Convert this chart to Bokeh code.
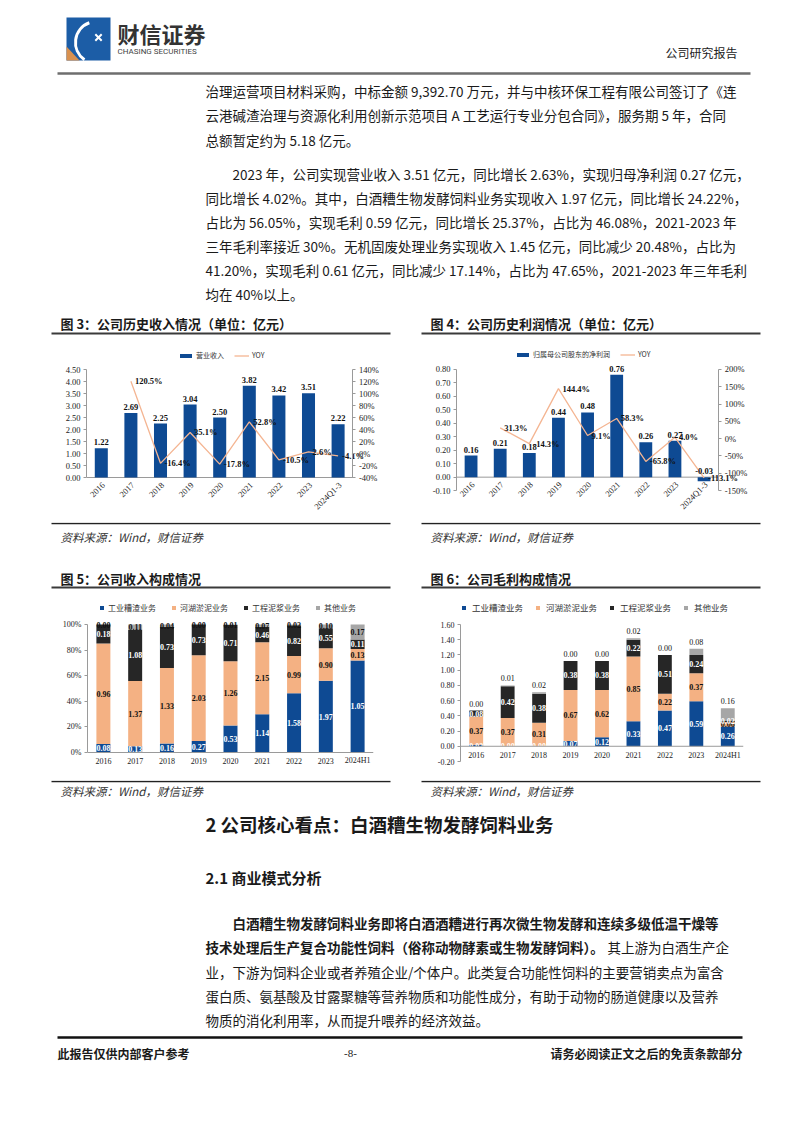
import math
from bokeh.plotting import figure
from bokeh.models import (Range1d, FactorRange, LinearAxis, Legend, LegendItem, FixedTicker,
                          PrintfTickFormatter, Spacer, Span)
from bokeh.layouts import column, row
from bokeh.core.properties import value
from bokeh.embed import file_html
from bokeh.resources import INLINE

CJK = "Noto Sans CJK SC"
SERIF = "Liberation Serif"
BLUE = "#0E4A93"
ORANGE = "#F4B183"
LINE_OR = "#F4B592"
DARK = "#262626"
GREY = "#A6A6A6"
TXT = "#1A1A1A"
AXIS = "#9A9A9A"

# ---------------- data ----------------
years_a = ["2016", "2017", "2018", "2019", "2020", "2021", "2022", "2023", "2024Q1-3"]
revenue = [1.22, 2.69, 2.25, 3.04, 2.50, 3.82, 3.42, 3.51, 2.22]
revenue_yoy = [None, 120.5, -16.4, 35.1, -17.8, 52.8, -10.5, 2.6, -4.1]
net_profit = [0.16, 0.21, 0.18, 0.44, 0.48, 0.76, 0.26, 0.27, -0.03]
net_profit_yoy = [None, 31.3, -14.3, 144.4, 9.1, 58.3, -65.8, 4.0, -113.1]

years_b = ["2016", "2017", "2018", "2019", "2020", "2021", "2022", "2023", "2024H1"]
seg_names = ["工业糟渣业务", "河湖淤泥业务", "工程泥浆业务", "其他业务"]
rev_industrial = [0.08, 0.13, 0.16, 0.27, 0.53, 1.14, 1.58, 1.97, 1.05]
rev_lake = [0.96, 1.37, 1.33, 2.03, 1.26, 2.15, 0.99, 0.90, 0.13]
rev_mud = [0.18, 1.08, 0.73, 0.73, 0.71, 0.46, 0.82, 0.55, 0.11]
rev_other = [0.00, 0.11, 0.04, 0.00, 0.01, 0.07, 0.02, 0.10, 0.17]
gp_industrial = [0.02, 0.00, 0.00, 0.07, 0.12, 0.33, 0.47, 0.59, 0.26]
gp_lake = [0.37, 0.37, 0.31, 0.67, 0.62, 0.85, 0.22, 0.37, 0.06]
gp_mud = [0.08, 0.42, 0.38, 0.38, 0.38, 0.22, 0.51, 0.24, 0.02]
gp_other = [0.00, 0.01, 0.02, 0.00, 0.00, 0.02, 0.00, 0.08, 0.16]

para1 = [
    "治理运营项目材料采购，中标金额 9,392.70 万元，并与中核环保工程有限公司签订了《连",
    "云港碱渣治理与资源化利用创新示范项目 A 工艺运行专业分包合同》，服务期 5 年，合同",
    "总额暂定约为 5.18 亿元。",
]
para2 = [
    "2023 年，公司实现营业收入 3.51 亿元，同比增长 2.63%，实现归母净利润 0.27 亿元，",
    "同比增长 4.02%。其中，白酒糟生物发酵饲料业务实现收入 1.97 亿元，同比增长 24.22%，",
    "占比为 56.05%，实现毛利 0.59 亿元，同比增长 25.37%，占比为 46.08%，2021-2023 年",
    "三年毛利率接近 30%。无机固废处理业务实现收入 1.45 亿元，同比减少 20.48%，占比为",
    "41.20%，实现毛利 0.61 亿元，同比减少 17.14%，占比为 47.65%，2021-2023 年三年毛利",
    "均在 40%以上。",
]
para3_bold = [
    "白酒糟生物发酵饲料业务即将白酒酒糟进行再次微生物发酵和连续多级低温干燥等",
    "技术处理后生产复合功能性饲料（俗称动物酵素或生物发酵饲料）。",
]
para3_rest = [
    "其上游为白酒生产企",
    "业，下游为饲料企业或者养殖企业/个体户。此类复合功能性饲料的主要营销卖点为富含",
    "蛋白质、氨基酸及甘露聚糖等营养物质和功能性成分，有助于动物的肠道健康以及营养",
    "物质的消化利用率，从而提升喂养的经济效益。",
]

W = 794


def band(h):
    p = figure(width=W, height=h, x_range=Range1d(0, W), y_range=Range1d(h, 0),
               x_axis_type=None, y_axis_type=None, output_backend="svg",
               toolbar_location=None, min_border=0)
    p.outline_line_color = None
    return p


def txt(p, x, y, s, size, style="normal", align="left", color=TXT, font=CJK):
    p.text(x=[x], y=[y], text=[s], text_font=value(font), text_font_size=size,
           text_font_style=style, text_align=align, text_baseline="middle",
           text_color=color)


def hline(p, x0, x1, y, w=1.5, color="#333333"):
    p.segment(x0=[x0], y0=[y], x1=[x1], y1=[y], line_color=color, line_width=w)


# ---------------- band A (page y 0..340) ----------------
A = band(340)
A.quad(left=[66], right=[110], top=[17], bottom=[60], fill_color="#1C5DA6", line_color=None)
A.patch(x=[66, 66, 79], y=[46, 60, 60], fill_color="#D9914F", line_color=None)
A.arc(x=[96], y=[42], radius=21, start_angle=math.radians(110), end_angle=math.radians(235),
      line_color="white", line_width=3)
A.scatter(x=[98], y=[37], marker="x", size=9, line_color="white", line_width=2)
txt(A, 117, 32, "财信证券", "22px", "bold", color="#333333")
txt(A, 117, 51, "CHASING SECURITIES", "8px", color="#444444", font="Roboto")
txt(A, 737, 52, "公司研究报告", "12px", align="right", color="#222222")
hline(A, 57, 750, 73, 2.5, "#6E6E6E")
for s, y in zip(para1, [90, 114, 139]):
    txt(A, 205, y, s, "13.5px")
for i, (s, y) in enumerate(zip(para2, [173, 197, 221, 245, 269, 293])):
    txt(A, 232 if i == 0 else 205, y, s, "13.5px")
txt(A, 60, 323, "图 3：公司历史收入情况（单位：亿元）", "13px", "bold")
txt(A, 430, 323, "图 4：公司历史利润情况（单位：亿元）", "13px", "bold")
hline(A, 51, 390, 333, 2, "#3A3A3A")
hline(A, 421, 760, 333, 2, "#3A3A3A")


# ---------------- chart helpers ----------------
def style_axis(ax, size):
    ax.axis_line_color = AXIS
    ax.major_tick_line_color = AXIS
    ax.major_tick_out = 3
    ax.major_tick_in = 0
    ax.minor_tick_line_color = None
    ax.major_label_text_font = SERIF
    ax.major_label_text_font_size = size
    ax.major_label_text_color = "#222222"
    ax.major_label_standoff = 3


def legend_in(p, items, loc, gw, gh, fs, spacing, standoff):
    leg = Legend(items=items, orientation="horizontal", location=loc,
                 label_text_font=CJK, label_text_font_size=fs, label_text_color="#333333",
                 glyph_width=gw, glyph_height=gh, spacing=spacing, padding=0,
                 margin=0, border_line_color=None, background_fill_alpha=0,
                 label_standoff=standoff, label_height=8)
    p.add_layout(leg)


def bar_line_chart(bars, yoy, y0, y1, ry0, ry1, rstep, lstep,
                   frame_w, frame_h, px_top, px_bot, x_end, br, bb, bar_label, loc):
    # data span plus pixel margins above / below (frame also holds legend & x labels)
    data_px = frame_h - px_top - px_bot
    k = (y1 - y0) / data_px
    rk = (ry1 - ry0) / data_px
    n_x = len(years_a)
    p = figure(x_range=Range1d(-0.5, x_end),
               y_range=Range1d(y0 - px_bot * k, y1 + px_top * k),
               width=35 + frame_w + br, height=5 + frame_h + bb, x_axis_location=None,
               min_border_left=35, min_border_right=br, min_border_top=5,
               min_border_bottom=bb, output_backend="svg", toolbar_location=None)
    p.xgrid.visible = False
    p.ygrid.visible = False
    p.outline_line_color = None
    p.extra_y_ranges = {"yoy": Range1d(ry0 - px_bot * rk, ry1 + px_top * rk)}
    n = int(round((y1 - y0) / lstep))
    p.yaxis.ticker = FixedTicker(ticks=[round(y0 + i * lstep, 2) for i in range(n + 1)])
    p.yaxis.formatter = PrintfTickFormatter(format="%.2f")
    p.yaxis.bounds = (y0, y1)
    rax = LinearAxis(y_range_name="yoy",
                     ticker=FixedTicker(ticks=list(range(ry0, ry1 + 1, rstep))),
                     formatter=PrintfTickFormatter(format="%d%%"),
                     fixed_location=n_x - 0.5, bounds=(ry0, ry1))
    p.add_layout(rax, "right")
    for ax in [p.yaxis[0], rax]:
        style_axis(ax, "8.5px")
    idx = list(range(n_x))
    # category axis line at zero, with its labels
    p.segment(x0=[-0.5], y0=[0], x1=[n_x - 0.5], y1=[0], line_color=AXIS, line_width=1)
    p.text(x=idx, y=[0] * n_x, text=years_a, angle=math.pi / 4,
           text_font=value(SERIF), text_font_size="8.5px", text_align="right",
           text_baseline="middle", x_offset=2, y_offset=6, text_color="#222222")
    br_ = p.vbar(x=idx, top=bars, width=0.44, fill_color=BLUE, line_color=None)
    xs = [i for i, v in zip(idx, yoy) if v is not None]
    ys = [v for v in yoy if v is not None]
    lr = p.line(x=xs, y=ys, y_range_name="yoy", line_color=LINE_OR, line_width=1.3)
    p.text(x=idx, y=[max(v, 0) for v in bars], text=["%.2f" % v for v in bars],
           text_font=value(SERIF), text_font_size="8.5px", text_font_style="bold",
           text_align="center", text_baseline="bottom", y_offset=-3, text_color="#111111")
    p.text(x=xs, y=ys, y_range_name="yoy", text=["%.1f%%" % v for v in ys],
           text_font=value(SERIF), text_font_size="8.5px", text_font_style="bold",
           text_align="left", text_baseline="middle", x_offset=4, text_color="#111111")
    legend_in(p, [LegendItem(label=bar_label, renderers=[br_]),
                  LegendItem(label="YOY", renderers=[lr])], loc, 15, 5, "7px", 10, 3)
    return p


# chart 3: frame page x 86..382, y 345..515 (zero at 477)
p3 = bar_line_chart(revenue, revenue_yoy, 0, 4.5, -40, 140, 20, 0.5,
                    296, 170, 24, 38, 9.5, 30, 7, "营业收入", (92, 155))
# chart 4: frame page x 456..756, y 345..516 (-0.1 at 491)
p4 = bar_line_chart(net_profit, net_profit_yoy, -0.1, 0.8, -150, 200, 50, 0.1,
                    300, 171, 24, 25, 9.8, 33, 6, "归属母公司股东的净利润", (59, 156))


def stack_chart(vals, y0, y1, ystep, fmt, bl, frame_h, px_top, px_bot, bb, pct,
                loc, fs, spacing, standoff, lab_off):
    data_px = frame_h - px_top - px_bot
    k = (y1 - y0) / data_px
    p = figure(x_range=FactorRange(factors=list(years_b)),
               y_range=Range1d(y0 - px_bot * k, y1 + px_top * k),
               width=339, height=5 + frame_h + bb, min_border_left=bl, min_border_right=17,
               min_border_top=5, min_border_bottom=bb, output_backend="svg",
               toolbar_location=None, x_axis_location=None)
    p.xgrid.visible = False
    p.ygrid.visible = False
    p.outline_line_color = None
    totals = [sum(t) for t in zip(*vals)]
    if pct:
        data = [[v / t * 100 for v, t in zip(s, totals)] for s in vals]
    else:
        data = vals
    src = {"x": years_b}
    keys = ["s0", "s1", "s2", "s3"]
    for kk, d in zip(keys, data):
        src[kk] = d
    rs = p.vbar_stack(keys, x="x", width=0.44, color=[BLUE, ORANGE, DARK, GREY],
                      line_color=None, source=src)
    n = int(round((y1 - y0) / ystep))
    p.yaxis.ticker = FixedTicker(ticks=[round(y0 + i * ystep, 2) for i in range(n + 1)])
    p.yaxis.formatter = PrintfTickFormatter(format=fmt)
    p.yaxis.bounds = (y0, y1)
    style_axis(p.yaxis[0], "8px")
    # category axis line at zero, with its labels
    p.add_layout(Span(location=0, dimension="width", line_color=AXIS, line_width=1))
    p.text(x=years_b, y=[0] * len(years_b), text=years_b, text_font=value(SERIF),
           text_font_size="8px", text_align="center", text_baseline="middle",
           y_offset=lab_off, text_color="#222222")
    colors = ["white", "#111111", "white", "#111111"]
    cum = [0.0] * len(years_b)
    for si, (d, v) in enumerate(zip(data, vals)):
        centers = [c + dv / 2 for c, dv in zip(cum, d)]
        tops = [c + dv for c, dv in zip(cum, d)]
        if si == 3 and not pct:
            p.text(x=years_b, y=tops, text=["%.2f" % x for x in v], text_font=value(SERIF),
                   text_font_size="8px", text_align="center", text_baseline="bottom",
                   y_offset=-4, text_color=["#111111"] * len(v))
        else:
            p.text(x=years_b, y=centers, text=["%.2f" % x for x in v], text_font=value(SERIF),
                   text_font_size="8px", text_font_style="bold", text_align="center",
                   text_baseline="middle", text_color=[colors[si]] * len(v))
        cum = tops
    legend_in(p, [LegendItem(label=nm, renderers=[r]) for nm, r in zip(seg_names, rs)],
              loc, 5, 5, fs, spacing, standoff)
    return p


# chart 5: frame page x 87..373, y 597..768 (0% at 752)
p5 = stack_chart([rev_industrial, rev_lake, rev_mud, rev_other], 0, 100, 20, "%d%%", 36,
                 171, 27, 16, 12, True, (12, 155), "8px", 15, 4, 8)
# chart 6: frame page x 460..743, y 597..768 (-0.2 at 761)
p6 = stack_chart([gp_industrial, gp_lake, gp_mud, gp_other], -0.2, 1.6, 0.2, "%.2f", 39,
                 171, 27, 7, 12, False, (1, 155), "8.5px", 12, 6, 9)

# ---------------- band C (page y 522..592) ----------------
C = band(70)
hline(C, 51, 390, 1, 1.5, "#222222")
hline(C, 421, 760, 1, 1.5, "#222222")
txt(C, 60, 14, "资料来源：Wind，财信证券", "11.5px", "italic", color="#333333")
txt(C, 430, 14, "资料来源：Wind，财信证券", "11.5px", "italic", color="#333333")
txt(C, 60, 56, "图 5：公司收入构成情况", "13px", "bold")
txt(C, 430, 56, "图 6：公司毛利构成情况", "13px", "bold")
hline(C, 51, 390, 65, 2, "#3A3A3A")
hline(C, 421, 760, 65, 2, "#3A3A3A")

# ---------------- band E (page y 780..1125) ----------------
E = band(345)
hline(E, 51, 390, 1, 1.5, "#222222")
hline(E, 421, 760, 1, 1.5, "#222222")
txt(E, 60, 10, "资料来源：Wind，财信证券", "11.5px", "italic", color="#333333")
txt(E, 430, 10, "资料来源：Wind，财信证券", "11.5px", "italic", color="#333333")
txt(E, 205, 43, "2 公司核心看点：白酒糟生物发酵饲料业务", "18.5px", "bold")
txt(E, 205, 97, "2.1 商业模式分析", "15px", "bold")
txt(E, 232, 142, para3_bold[0], "13.5px", "bold")
txt(E, 205, 166, para3_bold[1], "13.5px", "bold")
txt(E, 607, 166, para3_rest[0], "13.5px")
for s, y in zip(para3_rest[1:], [191, 215, 239]):
    txt(E, 205, y, s, "13.5px")
hline(E, 57, 742, 257, 2.5, "#111111")
txt(E, 57, 273, "此报告仅供内部客户参考", "12px", "bold")
txt(E, 350, 273, "-8-", "11px", align="center", font=SERIF)
txt(E, 742, 273, "请务必阅读正文之后的免责条款部分", "12px", "bold", align="right")

wB3 = 35 + 296 + 30
wB4 = 35 + 300 + 33
rowB = row(Spacer(width=51, height=182), p3, Spacer(width=421 - 51 - wB3, height=182), p4,
           Spacer(width=W - 421 - wB4, height=182))
rowD = row(Spacer(width=51, height=188), p5, Spacer(width=31, height=188), p6,
           Spacer(width=34, height=188))
page = column(A, rowB, C, rowD, E)

open("out.html", "w").write(file_html(page, INLINE))
